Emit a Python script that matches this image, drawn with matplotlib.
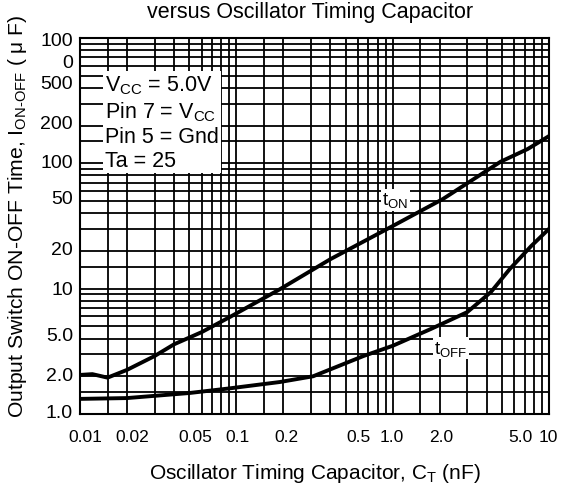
import numpy as np
import matplotlib
matplotlib.use("Agg")
import matplotlib.pyplot as plt
from matplotlib.ticker import FixedLocator, NullFormatter

plt.rcParams["font.family"] = ["Liberation Sans", "DejaVu Sans"]
plt.rcParams["mathtext.fontset"] = "custom"
plt.rcParams["mathtext.rm"] = "Liberation Sans"
plt.rcParams["mathtext.it"] = "Liberation Sans"

# curves (C_T in nF, time in us)
t_on_x = [0.01, 0.012, 0.015, 0.02, 0.03, 0.04, 0.06, 0.09, 0.19, 0.4, 1.0, 2.1, 4.9, 7.3, 10]
t_on_y = [2.05, 2.08, 1.95, 2.25, 2.9, 3.6, 4.5, 5.9, 9.9, 17.2, 31.6, 52, 103, 130, 165]

t_off_x = [0.01, 0.02, 0.05, 0.09, 0.19, 0.31, 0.65, 1.0, 1.75, 3.0, 4.25, 5.6, 7.7, 10]
t_off_y = [1.32, 1.34, 1.47, 1.6, 1.8, 2.0, 2.9, 3.5, 4.76, 6.5, 9.4, 14.3, 21.9, 30]

# tick labels sit where the original printed them
x_tick_pos = [0.0108, 0.0215, 0.0547, 0.101, 0.209, 0.605, 0.98, 2.04, 6.6, 9.9]
x_tick_lab = ["0.01", "0.02", "0.05", "0.1", "0.2", "0.5", "1.0", "2.0", "5.0", "10"]
y_tick_pos = [1000, 656, 446, 214, 106, 54, 21.5, 10.3, 4.35, 2.12, 1.06]
y_tick_lab = ["100", "0", "500", "200", "100", "50", "20", "10", "5.0", "2.0", "1.0"]

grid_steps = [1, 1.5, 2, 3, 4, 5, 6, 7, 8, 9]
x_grid = [m * 10.0 ** e for e in range(-2, 1) for m in grid_steps] + [10]
y_grid = [m * 10.0 ** e for e in range(0, 3) for m in grid_steps] + [1000]

fig = plt.figure(figsize=(5.61, 4.89), dpi=100)
ax = fig.add_axes([80 / 561, 74 / 489, 469 / 561, 376 / 489])
ax.set_xscale("log")
ax.set_yscale("log")
ax.set_xlim(0.01, 10)
ax.set_ylim(1, 1000)

for gx in x_grid:
    ax.axvline(gx, color="black", lw=1.3, zorder=1)
for gy in y_grid:
    ax.axhline(gy, color="black", lw=1.3, zorder=1)

ax.plot(t_on_x, t_on_y, color="black", lw=2.8, zorder=3)
ax.plot(t_off_x, t_off_y, color="black", lw=2.8, zorder=3)

ax.xaxis.set_major_locator(FixedLocator(x_tick_pos))
ax.set_xticklabels(x_tick_lab)
ax.yaxis.set_major_locator(FixedLocator(y_tick_pos))
ax.set_yticklabels(y_tick_lab)
ax.xaxis.set_minor_formatter(NullFormatter())
ax.yaxis.set_minor_formatter(NullFormatter())
ax.tick_params(which="both", length=0)
ax.tick_params(axis="x", labelsize=12.5, pad=11)
ax.tick_params(axis="y", labelsize=14, pad=5)
for sp in ax.spines.values():
    sp.set_linewidth(1.5)

ax.text(1.04, 51, "t$_{\\mathrm{ON}}$", fontsize=13.5, ha="center", va="center",
        bbox=dict(facecolor="white", edgecolor="none", pad=1), zorder=4)
ax.text(2.36, 3.36, "t$_{\\mathrm{OFF}}$", fontsize=13.5, ha="center", va="center",
        bbox=dict(facecolor="white", edgecolor="none", pad=1), zorder=4)

ax.text(0.053, 0.905, "V$_{\\mathrm{CC}}$ = 5.0V\nPin 7 = V$_{\\mathrm{CC}}$\nPin 5 = Gnd\nTa = 25",
        transform=ax.transAxes, fontsize=15.5, ha="left", va="top", linespacing=1.18,
        bbox=dict(facecolor="white", edgecolor="none", pad=1.5), zorder=4)

ax.set_xlabel("Oscillator Timing Capacitor, C$_{\\mathrm{T}}$ (nF)", fontsize=15, labelpad=12)
ax.set_ylabel("Output Switch ON-OFF Time, I$_{\\mathrm{ON\\text{-}OFF}}$ ( \u03bc F)", fontsize=15.2)
ax.yaxis.set_label_coords(-0.108, 0.529)
ax.set_title("versus Oscillator Timing Capacitor", fontsize=15.5, pad=15, x=0.49)

fig.savefig("out.png", dpi=100)
